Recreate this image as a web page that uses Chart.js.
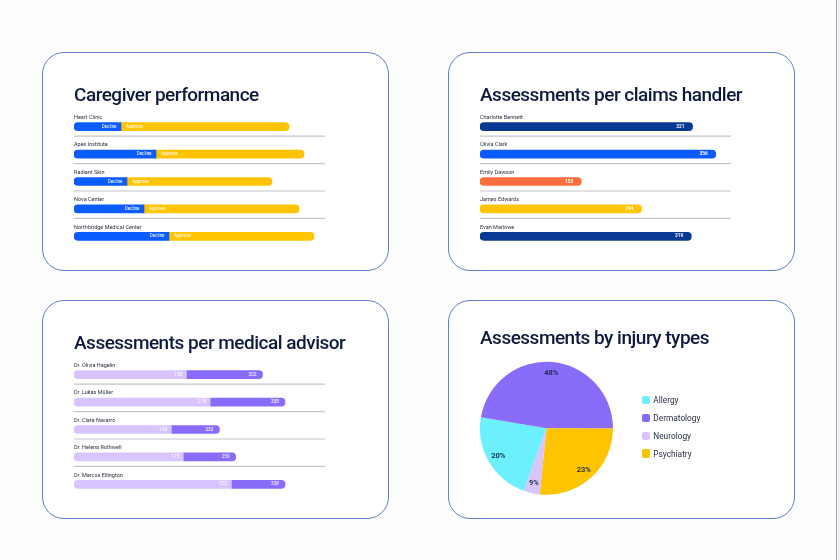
<!DOCTYPE html>
<html lang="en">
<head>
<meta charset="UTF-8">
<title>Assessments dashboard</title>
<script src="https://cdn.jsdelivr.net/npm/chart.js@4.4.0/dist/chart.umd.min.js"></script>
<style>
  html, body { margin: 0; padding: 0; background: #fdfdfd; }
  body { width: 840px; height: 560px; position: relative; overflow: hidden; font-family: Roboto, sans-serif; }
  .card { position: absolute; width: 345px; height: 217px; border: 1px solid #5f80c8; border-radius: 22px; background: #fff; }
  .card canvas { position: absolute; left: 0; top: 0; }
  .edge { position: absolute; left: 836px; top: 0; width: 1px; height: 560px; background: #8ea6d8; }
  .strip { position: absolute; left: 837px; top: 0; width: 3px; height: 560px; background: #f3f3f5; }
  #legend { position: absolute; left: 642px; top: 396px; }
  #legend div { height: 8.3px; margin-bottom: 9.5px; display: flex; align-items: center; font: 8.3px Roboto, sans-serif; color: #2a2f45; }
  #legend span { display: inline-block; width: 8.3px; height: 8.3px; border-radius: 2px; margin-right: 3px; }
</style>
</head>
<body>
  <div class="card" style="left:42px;top:52px"><canvas id="care" width="345" height="217"></canvas></div>
  <div class="card" style="left:448px;top:52px"><canvas id="claims" width="345" height="217"></canvas></div>
  <div class="card" style="left:42px;top:300px"><canvas id="advisor" width="345" height="217"></canvas></div>
  <div class="card" style="left:448px;top:300px"><canvas id="injury" width="345" height="217"></canvas></div>
  <div id="legend"></div>
  <div class="edge"></div><div class="strip"></div>

<script>
// caregiver performance
const careNames = ['Heart Clinic', 'Apex Institute', 'Radiant Skin', 'Nova Center', 'Northbridge Medical Center'];
const careDecline = [47, 82, 53, 70, 95];
const careApprove = [168, 148, 145, 155, 145];

// assessments per claims handler
const handlerNames = ['Charlotte Bennett', 'Olivia Clark', 'Emily Dawson', 'James Edwards', 'Evan Marlowe'];
const handlerCounts = [321, 356, 153, 244, 319];

// assessments per medical advisor (two stacked parts, total printed at the end)
const advisorNames = ['Dr. Olivia Hagelin', 'Dr. Lukas Müller', 'Dr. Clara Navarro', 'Dr. Helena Rothwell', 'Dr. Marcus Ellington'];
const advisorFirst = [180, 218, 156, 175, 252];
const advisorSecond = [122, 120, 77, 84, 86];

// assessments by injury types
const injuryTypes = ['Allergy', 'Dermatology', 'Psychiatry', 'Neurology'];
const injuryCounts = [221, 474, 266, 39];
const injuryPctText = ['20%', '48%', '23%', '9%'];

const NAVY = '#0d1a3f';
const BLUE = '#0b5cff', DARK = '#093a93', ORANGE = '#ff6e3d', YELLOW = '#ffc400';
const LAVENDER = '#d8c5ff', PURPLE = '#8a6cfb', CYAN = '#6cf0fe';

// title drawn by hand so canvas maxWidth never squeezes it
const cardTitle = {
  id: 'cardTitle',
  afterDraw(chart, args, opts) {
    const ctx = chart.ctx;
    ctx.save();
    ctx.font = '500 19px Roboto';
    ctx.letterSpacing = '-0.5px';
    ctx.fillStyle = NAVY;
    ctx.textBaseline = 'alphabetic';
    ctx.textAlign = 'left';
    ctx.fillText(opts.text, 31, opts.y);
    ctx.restore();
  }
};

// row names above bars plus separators between rows
const rowLabels = {
  id: 'rowLabels',
  beforeDatasetsDraw(chart) {
    const ctx = chart.ctx, area = chart.chartArea;
    const bars = chart.getDatasetMeta(0).data;
    ctx.save();
    ctx.strokeStyle = '#c6c6c9';
    ctx.lineWidth = 1.2;
    bars.forEach((bar, i) => {
      if (i === bars.length - 1) return;
      const y = bar.y + 9.5;
      ctx.beginPath(); ctx.moveTo(area.left, y); ctx.lineTo(area.right, y); ctx.stroke();
    });
    ctx.font = '5.5px Roboto';
    ctx.fillStyle = '#2c3140';
    ctx.textBaseline = 'middle';
    ctx.textAlign = 'left';
    chart.data.labels.forEach((name, i) => ctx.fillText(name, area.left, bars[i].y - 9));
    ctx.restore();
  }
};

function barOptions(title, max) {
  return {
    indexAxis: 'y',
    responsive: false,
    animation: false,
    events: [],
    layout: { padding: { left: 31, right: 63, top: 60, bottom: 20 } },
    scales: {
      x: { display: false, stacked: true, min: 0, max: max },
      y: { display: false, stacked: true }
    },
    plugins: {
      legend: { display: false },
      tooltip: { enabled: false },
      cardTitle: { text: title, y: 47.5 }
    }
  };
}

new Chart(document.getElementById('care'), {
  type: 'bar',
  data: {
    labels: careNames,
    datasets: [
      { label: 'Decline', data: careDecline, backgroundColor: BLUE, barThickness: 8,
        borderSkipped: false, borderRadius: { topLeft: 4, bottomLeft: 4 } },
      { label: 'Approve', data: careApprove, backgroundColor: YELLOW, barThickness: 8,
        borderSkipped: false, borderRadius: { topRight: 4, bottomRight: 4 } }
    ]
  },
  options: barOptions('Caregiver performance', 251),
  plugins: [cardTitle, rowLabels, {
    id: 'careText',
    afterDatasetsDraw(chart) {
      const ctx = chart.ctx;
      const dec = chart.getDatasetMeta(0).data, app = chart.getDatasetMeta(1).data;
      ctx.save();
      ctx.font = '4.5px Roboto';
      ctx.fillStyle = '#fff';
      ctx.textBaseline = 'middle';
      dec.forEach((bar, i) => {
        ctx.textAlign = 'right';
        ctx.fillText(chart.data.datasets[0].label, bar.x - 4.5, bar.y);
        ctx.textAlign = 'left';
        ctx.fillText(chart.data.datasets[1].label, app[i].base + 5, bar.y);
      });
      ctx.restore();
    }
  }]
});

new Chart(document.getElementById('claims'), {
  type: 'bar',
  data: {
    labels: handlerNames,
    datasets: [
      { label: 'Assessments', data: handlerCounts, backgroundColor: [DARK, BLUE, ORANGE, YELLOW, DARK],
        barThickness: 8, borderSkipped: false, borderRadius: 4 }
    ]
  },
  options: barOptions('Assessments per claims handler', 379),
  plugins: [cardTitle, rowLabels, {
    id: 'claimsText',
    afterDatasetsDraw(chart) {
      const ctx = chart.ctx;
      ctx.save();
      ctx.font = '600 4.8px Roboto';
      ctx.fillStyle = '#fff';
      ctx.textBaseline = 'middle';
      ctx.textAlign = 'right';
      chart.getDatasetMeta(0).data.forEach((bar, i) => {
        ctx.fillText(String(handlerCounts[i]), bar.x - 8, bar.y);
      });
      ctx.restore();
    }
  }]
});

new Chart(document.getElementById('advisor'), {
  type: 'bar',
  data: {
    labels: advisorNames,
    datasets: [
      { label: 'First', data: advisorFirst, backgroundColor: LAVENDER, barThickness: 8,
        borderSkipped: false, borderRadius: { topLeft: 4, bottomLeft: 4 } },
      { label: 'Second', data: advisorSecond, backgroundColor: PURPLE, barThickness: 8,
        borderSkipped: false, borderRadius: { topRight: 4, bottomRight: 4 } }
    ]
  },
  options: barOptions('Assessments per medical advisor', 402),
  plugins: [cardTitle, rowLabels, {
    id: 'advisorText',
    afterDatasetsDraw(chart) {
      const ctx = chart.ctx;
      const a = chart.getDatasetMeta(0).data, b = chart.getDatasetMeta(1).data;
      ctx.save();
      ctx.font = '4.8px Roboto';
      ctx.fillStyle = '#fff';
      ctx.textBaseline = 'middle';
      ctx.textAlign = 'right';
      a.forEach((bar, i) => {
        ctx.fillText(String(advisorFirst[i]), bar.x - 4, bar.y);
        ctx.fillText(String(advisorFirst[i] + advisorSecond[i]), b[i].x - 6, b[i].y);
      });
      ctx.restore();
    }
  }]
});

const injuryChart = new Chart(document.getElementById('injury'), {
  type: 'pie',
  data: {
    labels: injuryTypes,
    datasets: [{ data: injuryCounts, backgroundColor: [CYAN, PURPLE, YELLOW, LAVENDER], borderWidth: 0 }]
  },
  options: {
    responsive: false,
    animation: false,
    events: [],
    rotation: 200,
    layout: { padding: { left: 31, right: 181, top: 60.7, bottom: 23 } },
    plugins: {
      legend: { display: false },
      tooltip: { enabled: false },
      cardTitle: { text: 'Assessments by injury types', y: 43 }
    }
  },
  plugins: [cardTitle, {
    id: 'pctText',
    afterDatasetsDraw(chart) {
      const ctx = chart.ctx;
      ctx.save();
      ctx.font = '600 7.5px Roboto';
      ctx.fillStyle = '#1c2340';
      ctx.textBaseline = 'middle';
      ctx.textAlign = 'center';
      chart.getDatasetMeta(0).data.forEach((arc, i) => {
        const mid = (arc.startAngle + arc.endAngle) / 2;
        const r = arc.outerRadius * 0.84;
        ctx.fillText(injuryPctText[i], arc.x + Math.cos(mid) * r, arc.y + Math.sin(mid) * r);
      });
      ctx.restore();
    }
  }]
});

// html legend, alphabetical
const items = injuryChart.options.plugins.legend.labels.generateLabels(injuryChart)
  .sort((p, q) => p.text.localeCompare(q.text));
const legendBox = document.getElementById('legend');
items.forEach(item => {
  const row = document.createElement('div');
  const sw = document.createElement('span');
  sw.style.background = item.fillStyle;
  row.appendChild(sw);
  row.appendChild(document.createTextNode(item.text));
  legendBox.appendChild(row);
});
</script>
</body>
</html>
